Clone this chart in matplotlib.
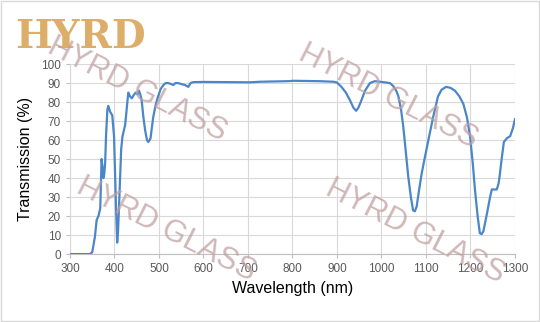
import matplotlib
matplotlib.use("Agg")
import matplotlib.pyplot as plt
from matplotlib.patches import Rectangle

wavelength = [300, 345, 350, 353, 356, 360, 364, 368, 371, 373, 375, 377, 379, 381, 384, 386,
              390, 395, 399, 403, 406, 408, 411, 415, 418, 424, 431, 435, 439, 444, 448, 452,
              455, 458, 461, 465, 469, 473, 476, 479, 481, 487, 493, 498, 504, 510, 515, 521,
              527, 532, 537, 543, 550, 558, 566, 571, 577, 600, 704, 727, 790, 802, 860, 892,
              900, 910, 920, 929, 937, 943, 948, 955, 963, 974, 985, 997, 1010, 1019, 1026,
              1033, 1038, 1044, 1049, 1055, 1060, 1066, 1071, 1075, 1079, 1084, 1090, 1095,
              1101, 1108, 1116, 1122, 1127, 1135, 1145, 1155, 1165, 1175, 1184, 1192, 1199,
              1205, 1210, 1216, 1221, 1225, 1229, 1235, 1240, 1244, 1248, 1254, 1259, 1263,
              1266, 1270, 1275, 1282, 1289, 1295, 1300]
transmission = [0, 0, 1, 5, 9, 18, 20, 24, 50, 46, 40, 42, 48, 62, 76, 78,
                75, 73, 62, 28, 6, 12, 30, 55, 62, 68, 85, 83, 82, 84, 85, 84,
                86, 84, 81, 72, 65, 60, 59, 60, 61, 72, 79, 83, 87, 89, 90, 90,
                89.5, 89, 90, 90, 89.5, 89, 88, 90, 90.5, 90.6, 90.4, 90.7, 91, 91.2, 91, 90.7,
                90.3, 88, 85, 81, 77, 75.4, 77, 81, 86, 90, 91, 90.7, 90.3, 90, 88.5,
                86, 83, 76, 67, 53, 41, 30, 23, 22.5, 25, 33, 42, 48,
                55, 63, 72, 78, 83, 86.5, 88, 87.5, 86, 83, 79, 72, 62,
                48, 34, 20, 11, 10.5, 12, 19, 25, 30, 34, 34, 34, 37,
                42, 50, 59, 61, 62, 66, 71]
x_ticks = [300, 400, 500, 600, 700, 800, 900, 1000, 1100, 1200, 1300]
y_ticks = [0, 10, 20, 30, 40, 50, 60, 70, 80, 90, 100]

fig = plt.figure(figsize=(5.4, 3.22), dpi=100)
fig.patches.append(Rectangle((0.002, 0.003), 0.996, 0.994, transform=fig.transFigure,
                             fill=False, edgecolor='#d9d9d9', linewidth=1))
ax = fig.add_axes([0.1296, 0.211, 0.8241, 0.590])

ax.plot(wavelength, transmission, color='#4a86c8', linewidth=1.6, zorder=3)
ax.set_xlim(300, 1300)
ax.set_ylim(0, 100)
ax.set_xticks(x_ticks)
ax.set_yticks(y_ticks)
ax.grid(True, color='#d9d9d9', linewidth=0.8)
ax.set_axisbelow(True)
for s in ['top', 'right']:
    ax.spines[s].set_visible(False)
ax.spines['left'].set_color('#d9d9d9')
ax.spines['bottom'].set_color('#bfbfbf')
ax.tick_params(axis='both', colors='#bfbfbf', labelcolor='#595959', labelsize=8.5,
               length=3, width=0.8)
for lbl in ax.get_xticklabels() + ax.get_yticklabels():
    lbl.set_family('Liberation Sans')
ax.set_xlabel('Wavelength (nm)', fontsize=11.5, family='Liberation Sans', labelpad=4)
ax.set_ylabel('Transmission (%)', fontsize=11.5, family='Liberation Sans', labelpad=6)

# logo
fig.text(0.028, 0.885, 'HYRD', fontsize=28, fontweight='bold', family='DejaVu Serif',
         color='#dcae6a', ha='left', va='center')

# watermarks
for (px, py) in [(137, 90), (388, 97), (166, 230), (415, 232)]:
    fig.text(px / 540, 1 - py / 322, 'HYRD GLASS', fontsize=22, family='Liberation Sans',
             color='#c0a0a0', alpha=0.75, rotation=-27, ha='center', va='center',
             rotation_mode='anchor', zorder=10)

fig.savefig('out.png', dpi=100)
